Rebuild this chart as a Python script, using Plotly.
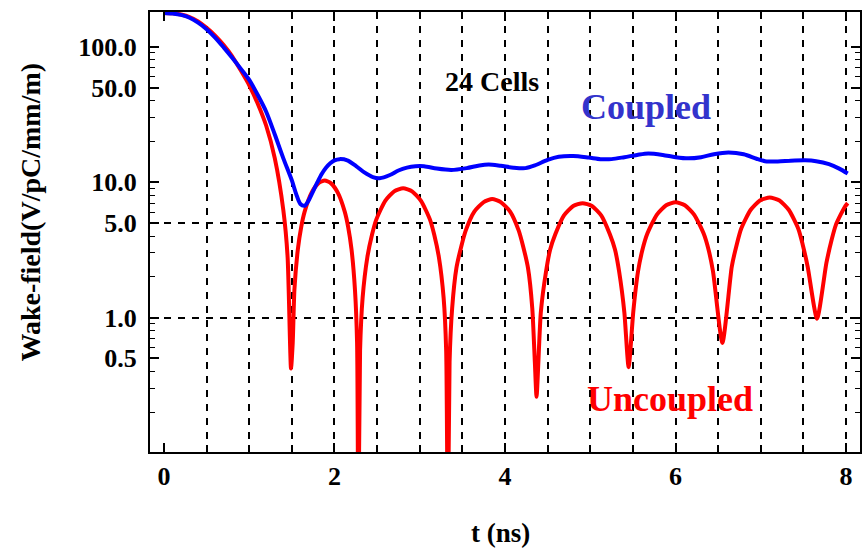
import plotly.graph_objects as go

# ---- data ----
t_uncoupled = [0, 0.1, 0.2, 0.3, 0.4, 0.5, 0.6, 0.7, 0.8, 0.9, 1.0, 1.1, 1.2, 1.3, 1.4, 1.45, 1.49,
               1.51, 1.53, 1.57, 1.61, 1.65, 1.73, 1.81, 1.885, 1.96, 2.04, 2.12, 2.16, 2.2, 2.24, 2.265, 2.28,
               2.30, 2.33, 2.385, 2.44, 2.49, 2.595, 2.70, 2.805, 2.91, 3.015, 3.12, 3.17, 3.225, 3.28, 3.31, 3.33,
               3.35, 3.38, 3.43, 3.49, 3.54, 3.64, 3.75, 3.85, 3.95, 4.06, 4.16, 4.21, 4.27, 4.32, 4.35, 4.37,
               4.42, 4.48, 4.53, 4.59, 4.69, 4.80, 4.91, 5.02, 5.13, 5.23, 5.29, 5.34, 5.40, 5.45,
               5.505, 5.56, 5.615, 5.67, 5.78, 5.89, 6.0, 6.11, 6.22, 6.33, 6.385, 6.44, 6.55,
               6.66, 6.72, 6.77, 6.88, 6.99, 7.105, 7.22, 7.33, 7.44, 7.49, 7.55, 7.66,
               7.77, 7.83, 7.88, 7.94, 7.99, 8.02]
w_uncoupled = [178, 177, 173, 166, 154, 138, 121, 103, 85, 67, 52, 38, 26, 15, 6.2, 2.8, 0.42,
               0.65, 1.61, 3.18, 4.68, 6.06, 8.33, 9.8, 10.3, 9.8, 8.33, 6.06, 4.68, 3.18, 1.61, 0.65, 0.02,
               0.57, 1.40, 2.78, 4.09, 5.29, 7.28, 8.56, 9.0, 8.56, 7.28, 5.29, 4.09, 2.78, 1.40, 0.57, 0.02,
               0.47, 1.17, 2.32, 3.41, 4.41, 6.07, 7.13, 7.5, 7.13, 6.07, 4.41, 3.41, 2.32, 1.17, 0.47, 0.26,
               1.09, 2.16, 3.18, 4.12, 5.66, 6.66, 7.0, 6.66, 5.66, 4.12, 3.18, 2.16, 1.09, 0.43,
               1.11, 2.19, 3.22, 4.17, 5.74, 6.75, 7.1, 6.75, 5.74, 4.17, 3.22, 2.19, 0.65,
               2.38, 3.5, 4.53, 6.23, 7.32, 7.7, 7.32, 6.23, 4.53, 3.5, 2.38, 0.98,
               2.53, 3.72, 4.82, 5.8, 6.63, 7.0]

t_coupled = [0, 0.1, 0.2, 0.3, 0.4, 0.5, 0.6, 0.7, 0.8, 0.9, 1.0, 1.1, 1.2, 1.3, 1.4, 1.5, 1.55, 1.6,
             1.65, 1.7, 1.75, 1.8, 1.85, 1.9, 1.95, 2.0, 2.06, 2.15, 2.25, 2.35, 2.45, 2.53, 2.65, 2.75,
             2.85, 2.95, 3.05, 3.2, 3.37, 3.55, 3.7, 3.81, 3.95, 4.1, 4.24, 4.35, 4.5, 4.63, 4.8, 4.98,
             5.12, 5.25, 5.4, 5.55, 5.68, 5.85, 6.0, 6.15, 6.3, 6.45, 6.62, 6.8, 6.95, 7.05, 7.2, 7.35,
             7.52, 7.65, 7.8, 7.92, 8.02]
w_coupled = [178, 176, 172, 164, 151, 135, 117, 99, 83, 69, 57, 44, 33, 22.5, 15, 10.3, 8.2, 6.9,
             6.7, 7.4, 8.6, 10.0, 11.5, 12.8, 13.8, 14.5, 14.8, 14.5, 13.2, 11.8, 10.9, 10.7, 11.3, 12.2,
             12.8, 13.1, 13.1, 12.6, 12.3, 12.7, 13.3, 13.5, 13.2, 12.8, 12.7, 13.3, 14.6, 15.4, 15.6, 15.2,
             14.8, 14.8, 15.3, 15.9, 16.3, 15.9, 15.3, 15.0, 15.3, 16.1, 16.6, 16.1, 14.9, 14.3, 14.2, 14.4,
             14.5, 14.3, 13.6, 12.6, 11.6]

x_major_ticks = [0, 2, 4, 6, 8]
x_minor_ticks = [0.5, 1, 1.5, 2.5, 3, 3.5, 4.5, 5, 5.5, 6.5, 7, 7.5]
x_grid = [0.5, 1, 1.5, 2, 2.5, 3, 3.5, 4, 4.5, 5, 5.5, 6, 6.5, 7, 7.5, 8]
y_major_ticks = [0.5, 1, 5, 10, 50, 100]
y_major_text = ["0.5", "1.0", "5.0", "10.0", "50.0", "100.0"]
y_minor_ticks = [0.2, 0.3, 0.4, 0.6, 0.7, 0.8, 0.9, 2, 3, 4, 6, 7, 8, 9,
                 20, 30, 40, 60, 70, 80, 90]
y_grid = [1, 5]

SERIF = "Liberation Serif, Times New Roman, serif"
XR = [-0.164, 8.164]
YR = [-0.993, 2.257]

fig = go.Figure()
fig.add_trace(go.Scatter(x=t_uncoupled, y=w_uncoupled, mode="lines",
                         line=dict(color="#FF0000", width=4, shape="spline", smoothing=0.6),
                         xaxis="x", yaxis="y", showlegend=False, hoverinfo="skip"))
fig.add_trace(go.Scatter(x=t_coupled, y=w_coupled, mode="lines",
                         line=dict(color="#0000FF", width=4, shape="spline", smoothing=0.8),
                         xaxis="x2", yaxis="y2", showlegend=False, hoverinfo="skip"))

tickfont = dict(family=SERIF, size=26, color="black", weight="bold")

fig.update_layout(
    width=865, height=548,
    margin=dict(l=150, r=3, t=12, b=96),
    paper_bgcolor="white", plot_bgcolor="white",
    xaxis=dict(range=XR, tickmode="array", tickvals=x_major_ticks,
               ticktext=[str(v) for v in x_major_ticks],
               ticks="inside", ticklen=9, tickwidth=2, tickcolor="black",
               showline=True, linecolor="black", linewidth=2, mirror="allticks",
               showgrid=False, zeroline=False, tickfont=tickfont, ticklabelstandoff=0,
               minor=dict(tickmode="array", tickvals=x_minor_ticks, ticks="inside",
                          ticklen=7, tickwidth=1.5, tickcolor="black", showgrid=False)),
    xaxis2=dict(range=XR, overlaying="x", anchor="y", tickmode="array", tickvals=x_grid,
                showticklabels=False, ticks="", showline=False, zeroline=False,
                showgrid=True, gridcolor="black", gridwidth=1.6, griddash="7px,7px"),
    yaxis=dict(type="log", range=YR, tickmode="array", tickvals=y_major_ticks,
               ticktext=y_major_text, ticks="inside", ticklen=9, tickwidth=1.5,
               tickcolor="black", showline=True, linecolor="black", linewidth=2,
               mirror="allticks", showgrid=False, tickfont=tickfont, ticklabelstandoff=6,
               minor=dict(tickmode="array", tickvals=y_minor_ticks, ticks="inside",
                          ticklen=5, tickwidth=1.2, tickcolor="black", showgrid=False)),
    yaxis2=dict(type="log", range=YR, overlaying="y", anchor="x", side="left",
                tickmode="array", tickvals=y_grid, showticklabels=False, ticks="",
                showline=False, showgrid=True, gridcolor="black", gridwidth=1.6,
                griddash="7px,7px"),
)

fig.add_annotation(text="24 Cells", xref="paper", yref="paper", x=0.482, y=0.841,
                   showarrow=False, xanchor="center", yanchor="middle",
                   font=dict(family=SERIF, size=28, color="black", weight="bold"))
fig.add_annotation(text="Coupled", xref="paper", yref="paper", x=0.699, y=0.784,
                   showarrow=False, xanchor="center", yanchor="middle",
                   font=dict(family=SERIF, size=36, color="#3333CC", weight="bold"))
fig.add_annotation(text="Uncoupled", xref="paper", yref="paper", x=0.732, y=0.120,
                   showarrow=False, xanchor="center", yanchor="middle",
                   font=dict(family=SERIF, size=36, color="#FF0000", weight="bold"))
fig.add_annotation(text="t (ns)", xref="paper", yref="paper", x=0.493, y=-0.184,
                   showarrow=False, xanchor="center", yanchor="middle",
                   font=dict(family=SERIF, size=27, color="black", weight="bold"))
fig.add_annotation(text="Wake-field(V/pC/mm/m)", xref="paper", yref="paper",
                   x=-0.1685, y=0.545, textangle=-90, showarrow=False,
                   xanchor="center", yanchor="middle",
                   font=dict(family=SERIF, size=28, color="black", weight="bold"))

fig.write_html("out.html")
